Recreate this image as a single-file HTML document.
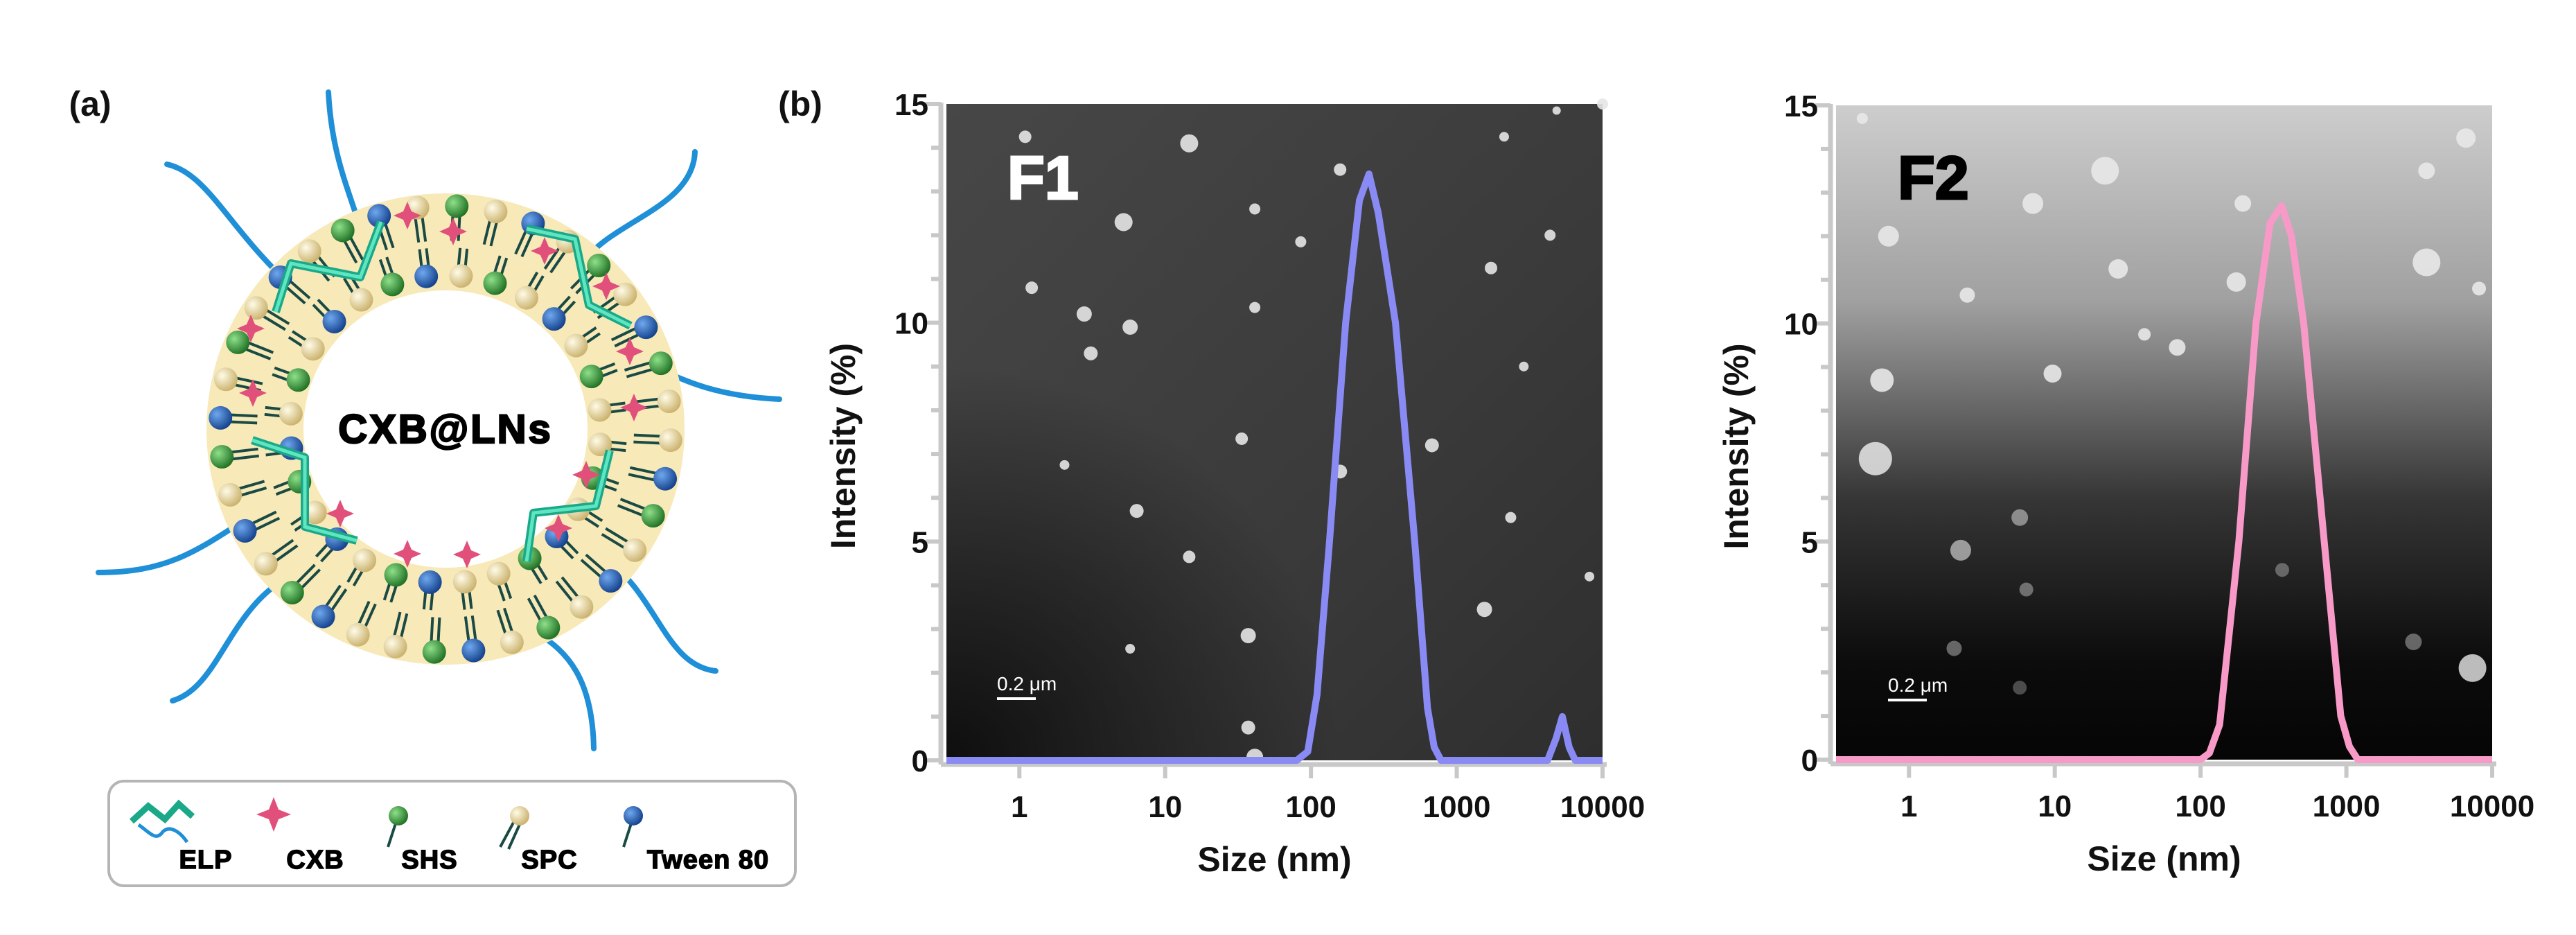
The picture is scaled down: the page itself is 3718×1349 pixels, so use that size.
<!DOCTYPE html>
<html><head><meta charset="utf-8">
<style>
html,body{margin:0;padding:0;background:#fff;}
svg{display:block;font-family:"Liberation Sans",Arial,sans-serif;}
</style></head>
<body>
<svg id="fig" width="3718" height="1349" viewBox="0 0 3718 1349" xmlns="http://www.w3.org/2000/svg">
<defs>
<radialGradient id="gTan" cx="35%" cy="35%" r="70%"><stop offset="0" stop-color="#fffbe6"/><stop offset="1" stop-color="#c9b06a"/></radialGradient>
<radialGradient id="gGreen" cx="35%" cy="35%" r="70%"><stop offset="0" stop-color="#8fe08a"/><stop offset="1" stop-color="#1d6e22"/></radialGradient>
<radialGradient id="gBlue" cx="35%" cy="35%" r="70%"><stop offset="0" stop-color="#6fa8ef"/><stop offset="1" stop-color="#123f8a"/></radialGradient>
<linearGradient id="f2bg" x1="0" y1="0" x2="0" y2="1"><stop offset="0" stop-color="#cdcdcd"/><stop offset="0.3" stop-color="#a0a0a0"/><stop offset="0.6" stop-color="#363636"/><stop offset="0.85" stop-color="#0c0c0c"/><stop offset="1" stop-color="#050505"/></linearGradient>
<linearGradient id="f1bg" x1="0" y1="0" x2="1" y2="1"><stop offset="0" stop-color="#474747"/><stop offset="0.6" stop-color="#3a3a3a"/><stop offset="1" stop-color="#2e2e2e"/></linearGradient>
<radialGradient id="f1corner" cx="0" cy="1" r="0.6"><stop offset="0" stop-color="#0e0e0e"/><stop offset="1" stop-color="#0e0e0e" stop-opacity="0"/></radialGradient>
</defs>
<text x="130" y="167" font-size="50" font-weight="bold" fill="#111" text-anchor="middle">(a)</text>
<text x="1155" y="167" font-size="50" font-weight="bold" fill="#111" text-anchor="middle">(b)</text>
<g id="schem"></g>
<g id="legendA">
<rect x="157" y="1127" width="991" height="151" rx="22" fill="#fff" stroke="#b5b5b5" stroke-width="4"/>
</g>
<g id="charts"></g>
</svg>
<script>
// ---------- chart data ----------
const xTickValues = [1, 10, 100, 1000, 10000];
const xTickLabels = ["1", "10", "100", "1000", "10000"];
const yTickValues = [0, 5, 10, 15];
const yTickLabels = ["0", "5", "10", "15"];
const f1Sizes = [0.316, 80, 95, 110, 134, 173, 215, 250, 290, 380, 515, 630, 700, 780, 3500, 4200, 4800, 5300, 5900, 6500, 10000];
const f1Intensity = [0, 0, 0.2, 1.5, 5, 10, 12.8, 13.4, 12.5, 10, 5, 1.2, 0.3, 0, 0, 0, 0.5, 1.0, 0.3, 0, 0];
const f2Sizes = [0.316, 100, 115, 135, 183, 240, 300, 360, 420, 510, 705, 915, 1050, 1200, 10000];
const f2Intensity = [0, 0, 0.15, 0.8, 5, 10, 12.3, 12.7, 12, 10, 5, 1, 0.3, 0, 0];

const NS = "http://www.w3.org/2000/svg";
function mk(tag, attrs, parent){ const e=document.createElementNS(NS,tag); for(const k in attrs) e.setAttribute(k,attrs[k]); if(parent) parent.appendChild(e); return e; }

function panel(opt){
  const g = mk('g',{},document.getElementById('charts'));
  
  
  const L=opt.left,R=opt.right,T=opt.top,B=opt.bottom;
  const lmin=Math.log10(0.316), lmax=4;
  const xs=v=>L+(Math.log10(v)-lmin)/(lmax-lmin)*(R-L);
  const ys=v=>B-(v/15)*(B-T);
  const bg=mk('rect',{x:L,y:T,width:R-L,height:B-T,fill:opt.bg},g);
  
  
  if(opt.corner) mk('rect',{x:L,y:T,width:R-L,height:B-T,fill:opt.corner},g);
  opt.dots.forEach(d=>{ mk('circle',{cx:L+d[0]*(R-L),cy:T+d[1]*(B-T),r:d[2],fill:opt.dotColor,opacity:d[3]||0.9},g); });
  mk('line',{x1:L-8,y1:T-2,x2:L-8,y2:B+6,stroke:'#c8c8c8','stroke-width':7},g);
  mk('line',{x1:L-8,y1:B+6,x2:R+6,y2:B+6,stroke:'#c8c8c8','stroke-width':7},g);
  for(let v=0;v<=15;v++){
    const major=v%5===0;
    mk('line',{x1:L-8,x2:L-8-(major?22:14),y1:ys(v),y2:ys(v),stroke:'#c8c8c8','stroke-width':6},g);
  }
  yTickValues.forEach((v,i)=>{
    const t=mk('text',{x:L-26,y:ys(v)+16,'font-size':44,'font-weight':'bold','text-anchor':'end',fill:'#111'},g);
    t.textContent=yTickLabels[i];
    
    
  });
  xTickValues.forEach((v,i)=>{
    mk('line',{x1:xs(v),x2:xs(v),y1:B+6,y2:B+26,stroke:'#c8c8c8','stroke-width':6},g);
    const t=mk('text',{x:xs(v),y:B+82,'font-size':44,'font-weight':'bold','text-anchor':'middle',fill:'#111'},g);
    t.textContent=xTickLabels[i];
    
    
  });
  const xt=mk('text',{x:(L+R)/2,y:B+160,'font-size':50,'font-weight':'bold','text-anchor':'middle',fill:'#111'},g);
  xt.textContent='Size (nm)';
  
  
  const yt=mk('text',{x:opt.ytx,y:(T+B)/2+20,'font-size':50,'font-weight':'bold','text-anchor':'middle',fill:'#111',transform:`rotate(-90 ${opt.ytx} ${(T+B)/2+20})`},g);
  yt.textContent='Intensity (%)';
  
  
  const sb=mk('text',{x:L+opt.sbx,y:T+846,'font-size':28,fill:'#fff'},g);
  sb.textContent='0.2 μm';
  
  
  mk('line',{x1:L+opt.sbx,x2:L+opt.sbx+56,y1:T+858,y2:T+858,stroke:'#fff','stroke-width':4},g);
  const sl=mk('text',{x:opt.labx,y:287,'font-size':88,'font-weight':'900',fill:opt.labColor,stroke:opt.labColor,'stroke-width':3},g);
  sl.textContent=opt.label;
  
  
  const pts=opt.sizes.map((s,i)=>xs(s).toFixed(1)+','+ys(opt.vals[i]).toFixed(1)).join(' ');
  const pl=mk('polyline',{points:pts,fill:'none',stroke:opt.color,'stroke-width':10,'stroke-linejoin':'round'},g);
  
  
}

const f1Dots=[[0.12,0.05,9],[0.37,0.06,13],[0.6,0.1,9],[0.85,0.05,7],[1.0,0.0,8],[0.93,0.01,6],[0.27,0.18,13],[0.47,0.16,8],[0.54,0.21,8],[0.92,0.2,8],[0.83,0.25,9],[0.13,0.28,9],[0.21,0.32,11],[0.28,0.34,11],[0.47,0.31,8],[0.22,0.38,10],[0.88,0.4,7],[0.18,0.55,7],[0.45,0.51,9],[0.74,0.52,10],[0.6,0.56,10],[0.29,0.62,10],[0.37,0.69,9],[0.86,0.63,8],[0.98,0.72,7],[0.82,0.77,11],[0.46,0.81,11],[0.28,0.83,7],[0.46,0.95,10],[0.47,0.995,12]];
const f2Dots=[[0.04,0.02,8],[0.41,0.1,20],[0.3,0.15,15],[0.08,0.2,15],[0.43,0.25,14],[0.62,0.15,12],[0.61,0.27,14],[0.2,0.29,11],[0.47,0.35,9],[0.52,0.37,12],[0.07,0.42,17],[0.33,0.41,13],[0.06,0.54,24,0.85],[0.9,0.24,20],[0.98,0.28,10],[0.96,0.05,14],[0.9,0.1,12],[0.28,0.63,12,0.5],[0.19,0.68,15,0.6],[0.29,0.74,10,0.4],[0.18,0.83,11,0.4],[0.28,0.89,10,0.3],[0.88,0.82,12,0.4],[0.97,0.86,20,0.8],[0.68,0.71,10,0.35]];

panel({name:'chart-f1',left:1366,right:2313,top:150,bottom:1097,bg:'url(#f1bg)',corner:'url(#f1corner)',dots:f1Dots,dotColor:'#e6e6e6',ytx:1234,sbx:73,labx:1454,label:'F1',labColor:'#fff',sizes:f1Sizes,vals:f1Intensity,color:'#8a8af5'});
panel({name:'chart-f2',left:2650,right:3597,top:152,bottom:1096,bg:'url(#f2bg)',dots:f2Dots,dotColor:'#e8e8e8',ytx:2523,sbx:75,labx:2739,label:'F2',labColor:'#000',sizes:f2Sizes,vals:f2Intensity,color:'#f79ac8'});

// ---------- schematic ----------
(function(){
  const s=document.getElementById('schem');
  const cx=643, cy=619;
  const tails=["M241 237 C300 250 330 330 421 413","M474 133 C480 250 520 300 528 370","M1003 219 C1000 300 880 320 842 379","M1125 576 C1000 570 960 530 911 516","M142 826 C250 826 290 790 383 731","M249 1011 C320 990 330 870 429 826","M1033 968 C960 960 950 860 872 804","M857 1080 C855 980 820 940 773 912"];
  tails.forEach(d=>{ const p=mk('path',{d:d,fill:'none',stroke:'#1f8fd8','stroke-width':8,'stroke-linecap':'round'},s);   });
  const ring=mk('path',{d:`M${cx-345} ${cy} a345 340 0 1 0 690 0 a345 340 0 1 0 -690 0 Z M${cx-205} ${cy} a205 200 0 1 1 410 0 a205 200 0 1 1 -410 0 Z`,fill:'#f8e9b9','fill-rule':'evenodd'},s);
  
  
  const grads=['url(#gTan)','url(#gGreen)','url(#gBlue)'];
  const seq=[0,2,1,0,2,0,1,0,2,1,0,0,2,1,0,2,0,1,2,0,1,0,2,0,1,2,0,1,0,2,0,1,0,2,1,0];
  function layer(rOut,rIn,n,dir,off){
    for(let i=0;i<n;i++){
      const a=(i/n)*Math.PI*2+off;
      const c=Math.cos(a), si=Math.sin(a);
      const hx=cx+c*rOut*1.01, hy=cy+si*rOut;
      const tx=cx+c*rIn, ty=cy+si*rIn;
      const pa=-si*5, pb=c*5;
      mk('line',{x1:hx+pa,y1:hy+pb,x2:tx+pa,y2:ty+pb,stroke:'#1a4a44','stroke-width':4},s);
      mk('line',{x1:hx-pa,y1:hy-pb,x2:tx-pa,y2:ty-pb,stroke:'#1a4a44','stroke-width':4},s);
      mk('circle',{cx:hx,cy:hy,r:17,fill:grads[seq[(i+dir)%seq.length]]},s);
    }
  }
  layer(322,272,36,0,0.05);
  layer(222,262,28,5,0.1);
  const stars=[[588,311],[654,334],[786,362],[875,413],[362,474],[365,567],[909,507],[915,588],[491,741],[588,799],[674,800],[846,685],[806,762]];
  stars.forEach(p=>{ const st=mk('path',{d:`M${p[0]} ${p[1]-20} L${p[0]+6} ${p[1]-6} L${p[0]+20} ${p[1]} L${p[0]+6} ${p[1]+6} L${p[0]} ${p[1]+20} L${p[0]-6} ${p[1]+6} L${p[0]-20} ${p[1]} L${p[0]-6} ${p[1]-6} Z`,fill:'#e0507a'},s);   });
  const elps=["M398 450 L420 380 L520 400 L550 320","M760 330 L830 345 L850 440 L910 470","M364 635 L440 660 L440 760 L515 780","M760 810 L770 740 L860 730 L880 650"];
  elps.forEach(d=>{ const p=mk('path',{d:d,fill:'none',stroke:'#1aa888','stroke-width':12,'stroke-linejoin':'round'},s);   mk('path',{d:d,fill:'none',stroke:'#5fe6c0','stroke-width':5},s); });
  const t=mk('text',{x:cx,y:cy+20,'font-size':58,'font-weight':'900','text-anchor':'middle',fill:'#000',stroke:'#000','stroke-width':2.5,'letter-spacing':'3'},s);
  t.textContent='CXB@LNs';
  
  

  const lg=document.getElementById('legendA');
  mk('path',{d:'M190 1185 L214 1163 L238 1182 L258 1160 L278 1178',fill:'none',stroke:'#1aa888','stroke-width':9},lg);
  mk('path',{d:'M200 1190 C215 1200 225 1215 235 1200 C245 1190 260 1200 270 1215',fill:'none',stroke:'#1f8fd8','stroke-width':5},lg);
  mk('path',{d:'M395 1150 L402 1168 L420 1175 L402 1182 L395 1200 L388 1182 L370 1175 L388 1168 Z',fill:'#e0507a'},lg);
  mk('line',{x1:572,y1:1185,x2:560,y2:1222,stroke:'#1a4a44','stroke-width':4},lg);
  mk('circle',{cx:575,cy:1177,r:14,fill:'url(#gGreen)'},lg);
  mk('line',{x1:742,y1:1185,x2:722,y2:1222,stroke:'#1a4a44','stroke-width':4},lg);
  mk('line',{x1:752,y1:1185,x2:734,y2:1225,stroke:'#1a4a44','stroke-width':4},lg);
  mk('circle',{cx:750,cy:1177,r:14,fill:'url(#gTan)'},lg);
  mk('line',{x1:912,y1:1185,x2:900,y2:1222,stroke:'#1a4a44','stroke-width':4},lg);
  mk('circle',{cx:914,cy:1177,r:14,fill:'url(#gBlue)'},lg);
  const labs=[['ELP',297],['CXB',455],['SHS',620],['SPC',793],['Tween 80',1022]];
  labs.forEach(l=>{ const tx=mk('text',{x:l[1],y:1253,'font-size':38,'font-weight':'900','text-anchor':'middle',fill:'#000',stroke:'#000','stroke-width':1.5,'letter-spacing':'1'},lg); tx.textContent=l[0];   });
})();
</script>
</body></html>
